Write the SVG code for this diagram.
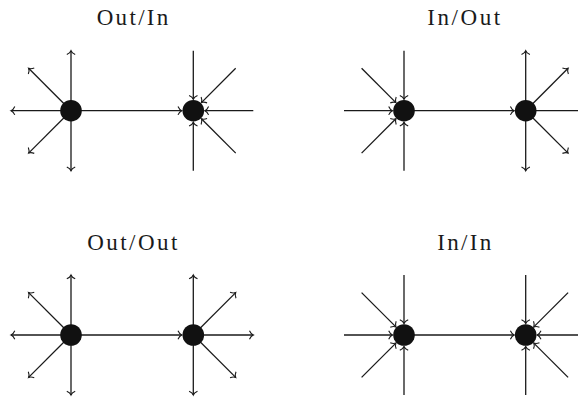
<svg xmlns="http://www.w3.org/2000/svg" width="578" height="399" viewBox="0 0 578 399">
<style>
.t{font-family:"Liberation Serif","DejaVu Serif",serif;font-size:23px;fill:#1a1a1a;text-anchor:middle}
.c line{stroke:#1a1a1a;stroke-width:1.3;fill:none;marker-end:url(#ah)}
.n{fill:#111}
</style>
<defs>
<marker id="ah" markerUnits="userSpaceOnUse" markerWidth="10" markerHeight="10" viewBox="-5 -5 10 10" refX="0" refY="0" orient="auto" overflow="visible">
<path d="M-3.8,-4.2 C-2.7,-1.7 -1.3,-0.5 0,0 C-1.3,0.5 -2.7,1.7 -3.8,4.2" fill="none" stroke="#1a1a1a" stroke-width="1.1"/>
</marker>
</defs>
<rect width="578" height="399" fill="#fff"/>
<text class="t" x="132.5" y="25" textLength="71.7" lengthAdjust="spacing">Out/In</text>
<text class="t" x="463.7" y="25" textLength="72.7" lengthAdjust="spacing">In/Out</text>
<text class="t" x="132.3" y="250" textLength="90" lengthAdjust="spacing">Out/Out</text>
<text class="t" x="464.3" y="250" textLength="54" lengthAdjust="spacing">In/In</text>
<g id="connectors" class="c">
<!-- TL left Out -->
<line x1="71" y1="110.7" x2="71" y2="50.7"/>
<line x1="71" y1="110.7" x2="71" y2="170.7"/>
<line x1="71" y1="110.7" x2="11" y2="110.7"/>
<line x1="71" y1="110.7" x2="28.6" y2="68.3"/>
<line x1="71" y1="110.7" x2="28.6" y2="153.1"/>
<line x1="71" y1="110.7" x2="181.8" y2="110.7"/>
<!-- TL right In -->
<line x1="193.3" y1="50.7" x2="193.3" y2="99.2"/>
<line x1="193.3" y1="170.7" x2="193.3" y2="122.2"/>
<line x1="253.3" y1="110.7" x2="204.8" y2="110.7"/>
<line x1="235.7" y1="68.3" x2="201.4" y2="102.6"/>
<line x1="235.7" y1="153.1" x2="201.4" y2="118.8"/>
<!-- TR left In -->
<line x1="404" y1="50.7" x2="404" y2="99.2"/>
<line x1="404" y1="170.7" x2="404" y2="122.2"/>
<line x1="344" y1="110.7" x2="392.5" y2="110.7"/>
<line x1="361.6" y1="68.3" x2="395.9" y2="102.6"/>
<line x1="361.6" y1="153.1" x2="395.9" y2="118.8"/>
<line x1="404" y1="110.7" x2="514.2" y2="110.7"/>
<!-- TR right Out -->
<line x1="525.7" y1="110.7" x2="525.7" y2="50.7"/>
<line x1="525.7" y1="110.7" x2="525.7" y2="170.7"/>
<line x1="525.7" y1="110.7" x2="585.7" y2="110.7"/>
<line x1="525.7" y1="110.7" x2="568.1" y2="68.3"/>
<line x1="525.7" y1="110.7" x2="568.1" y2="153.1"/>
<!-- BL left Out -->
<line x1="71" y1="335" x2="71" y2="275"/>
<line x1="71" y1="335" x2="71" y2="395"/>
<line x1="71" y1="335" x2="11" y2="335"/>
<line x1="71" y1="335" x2="28.6" y2="292.6"/>
<line x1="71" y1="335" x2="28.6" y2="377.4"/>
<line x1="71" y1="335" x2="181.8" y2="335"/>
<!-- BL right Out -->
<line x1="193.3" y1="335" x2="193.3" y2="275"/>
<line x1="193.3" y1="335" x2="193.3" y2="395"/>
<line x1="193.3" y1="335" x2="253.3" y2="335"/>
<line x1="193.3" y1="335" x2="235.7" y2="292.6"/>
<line x1="193.3" y1="335" x2="235.7" y2="377.4"/>
<!-- BR left In -->
<line x1="404" y1="275" x2="404" y2="323.5"/>
<line x1="404" y1="395" x2="404" y2="346.5"/>
<line x1="344" y1="335" x2="392.5" y2="335"/>
<line x1="361.6" y1="292.6" x2="395.9" y2="326.9"/>
<line x1="361.6" y1="377.4" x2="395.9" y2="343.1"/>
<line x1="404" y1="335" x2="514.2" y2="335"/>
<!-- BR right In -->
<line x1="525.7" y1="275" x2="525.7" y2="323.5"/>
<line x1="525.7" y1="395" x2="525.7" y2="346.5"/>
<line x1="585.7" y1="335" x2="537.2" y2="335"/>
<line x1="568.1" y1="292.6" x2="533.8" y2="326.9"/>
<line x1="568.1" y1="377.4" x2="533.8" y2="343.1"/>
</g>
<g id="node-tl-a"><circle class="n" cx="71" cy="110.7" r="10.8"/></g>
<g id="node-tl-b"><circle class="n" cx="193.3" cy="110.7" r="10.8"/></g>
<g id="node-tr-a"><circle class="n" cx="404" cy="110.7" r="10.8"/></g>
<g id="node-tr-b"><circle class="n" cx="525.7" cy="110.7" r="10.8"/></g>
<g id="node-bl-a"><circle class="n" cx="71" cy="335" r="10.8"/></g>
<g id="node-bl-b"><circle class="n" cx="193.3" cy="335" r="10.8"/></g>
<g id="node-br-a"><circle class="n" cx="404" cy="335" r="10.8"/></g>
<g id="node-br-b"><circle class="n" cx="525.7" cy="335" r="10.8"/></g>
</svg>
